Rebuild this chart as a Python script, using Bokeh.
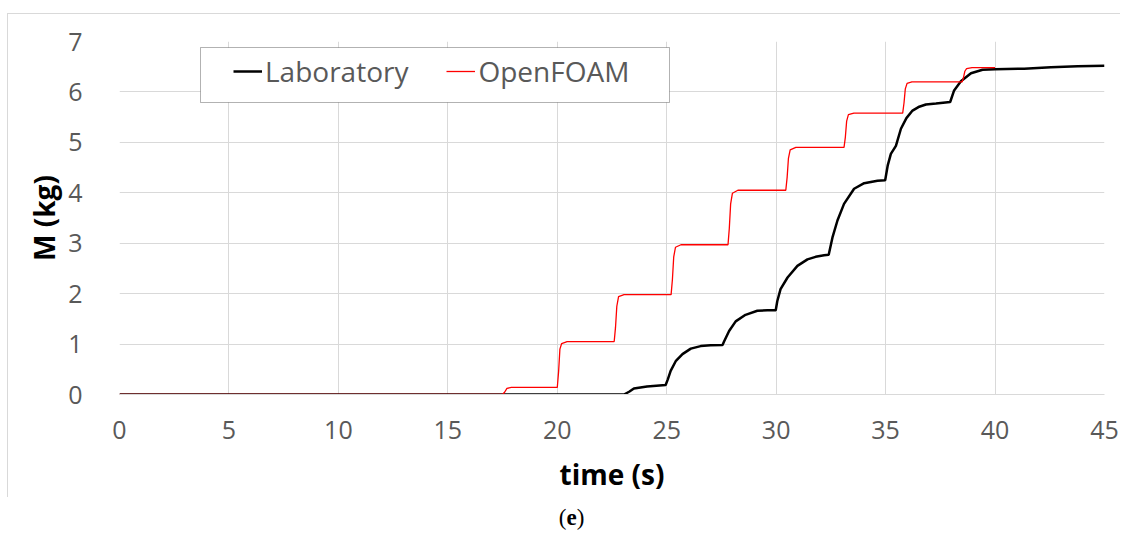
from bokeh.plotting import figure
from bokeh.layouts import column
from bokeh.models import Legend, LegendItem, BoxAnnotation, FixedTicker, Range1d, Label
from bokeh.embed import file_html
from bokeh.resources import INLINE

# Accumulated mass M (kg) against time (s)
lab_time = [0, 23.05, 23.3, 23.5, 24.1, 24.95, 25.05, 25.18, 25.41, 25.72, 26.1, 26.55,
            27.0, 27.55, 27.62, 27.85, 28.15, 28.6, 29.14, 29.6, 29.98, 30.05, 30.2,
            30.52, 30.97, 31.43, 31.8, 32.19, 32.4, 32.57, 32.8, 33.1, 33.56, 34.02,
            34.63, 34.98, 35.1, 35.24, 35.47, 35.7, 35.95, 36.23, 36.5, 36.84, 37.3,
            37.95, 38.13, 38.44, 38.9, 39.43, 40.0, 41.33, 42.55, 43.77, 45.0]
lab_mass = [0, 0, 0.06, 0.12, 0.16, 0.19, 0.30, 0.47, 0.66, 0.80, 0.91, 0.96,
            0.975, 0.98, 1.05, 1.26, 1.45, 1.58, 1.66, 1.67, 1.67, 1.85, 2.09,
            2.32, 2.55, 2.68, 2.73, 2.76, 2.77, 3.11, 3.45, 3.78, 4.08, 4.19,
            4.24, 4.25, 4.55, 4.77, 4.93, 5.27, 5.48, 5.63, 5.70, 5.75, 5.77,
            5.80, 6.03, 6.21, 6.37, 6.44, 6.45, 6.46, 6.49, 6.51, 6.52]

foam_time = [0, 17.5, 17.6, 17.7, 17.9,
             20.0, 20.06, 20.12, 20.2, 20.45,
             22.6, 22.66, 22.72, 22.8, 23.05,
             25.2, 25.26, 25.32, 25.4, 25.65,
             27.8, 27.86, 27.92, 28.0, 28.25,
             30.44, 30.5, 30.56, 30.64, 30.9,
             33.1, 33.16, 33.22, 33.3, 33.55,
             35.78, 35.84, 35.9, 35.98, 36.2,
             38.5, 38.56, 38.62, 38.7, 38.95,
             40.0]
foam_mass = [0, 0, 0.05, 0.12, 0.14,
             0.14, 0.45, 0.90, 1.01, 1.05,
             1.05, 1.33, 1.75, 1.94, 1.98,
             1.98, 2.28, 2.73, 2.92, 2.97,
             2.97, 3.30, 3.78, 3.99, 4.05,
             4.05, 4.30, 4.68, 4.85, 4.90,
             4.90, 5.10, 5.42, 5.55, 5.58,
             5.58, 5.78, 6.06, 6.17, 6.20,
             6.20, 6.29, 6.41, 6.46, 6.48,
             6.48]

x_ticks = [0, 5, 10, 15, 20, 25, 30, 35, 40, 45]
y_ticks = [0, 1, 2, 3, 4, 5, 6, 7]

TICK_GREY = "#595959"
GRID_GREY = "#d9d9d9"
FONT = "Open Sans"

p = figure(width=1113, height=484, output_backend="svg", toolbar_location=None,
           x_range=Range1d(0, 45), y_range=Range1d(0, 7),
           min_border_left=111, min_border_right=17, min_border_top=27, min_border_bottom=104,
           margin=(13, 0, 0, 7),
           styles={"border-top": "1px solid #d9d9d9", "border-left": "1px solid #d9d9d9"})
p.outline_line_color = None
p.background_fill_color = "white"
p.border_fill_color = "white"

for ax in (p.xaxis[0], p.yaxis[0]):
    ax.major_tick_line_color = None
    ax.minor_tick_line_color = None
    ax.major_label_text_font = FONT
    ax.major_label_text_font_size = "25px"
    ax.major_label_text_color = TICK_GREY
    ax.axis_label_text_font = FONT
    ax.axis_label_text_font_style = "bold"
    ax.axis_label_text_font_size = "28px"
    ax.axis_label_text_color = "black"

p.xaxis.ticker = FixedTicker(ticks=x_ticks)
p.yaxis.ticker = FixedTicker(ticks=y_ticks)
p.xaxis.axis_label = "time (s)"
p.yaxis.axis_label = "M (kg)"
p.xaxis.axis_line_color = GRID_GREY
p.yaxis.axis_line_color = None
p.xaxis.major_label_standoff = 20
p.yaxis.major_label_standoff = 31
p.xaxis.axis_label_standoff = 13
p.yaxis.axis_label_standoff = 2

p.xgrid.grid_line_color = GRID_GREY
p.ygrid.grid_line_color = GRID_GREY

r_lab = p.line(lab_time, lab_mass, line_color="black", line_width=2.5)
r_foam = p.line(foam_time, foam_mass, line_color="#ff0000", line_width=1.3)

# legend frame
p.add_layout(BoxAnnotation(left=191, right=660, top=32, bottom=87,
                           left_units="canvas", right_units="canvas",
                           top_units="canvas", bottom_units="canvas",
                           fill_color="white", fill_alpha=1,
                           line_color="black", line_width=1))

legend = Legend(items=[LegendItem(label="Laboratory", renderers=[r_lab]),
                       LegendItem(label="OpenFOAM", renderers=[r_foam])],
                orientation="horizontal", location=(114, 304),
                padding=0, margin=0, spacing=38, glyph_width=29, glyph_height=30,
                label_height=30, label_standoff=3,
                label_text_font=FONT, label_text_font_size="28px",
                label_text_color=TICK_GREY, label_text_baseline="middle",
                border_line_color=None, background_fill_alpha=0)
p.add_layout(legend)

# panel caption strip below the chart: "(e)" with a bold letter
cap = figure(width=1121, height=36, output_backend="svg", toolbar_location=None,
             x_range=Range1d(0, 1), y_range=Range1d(0, 1),
             x_axis_location=None, y_axis_location=None,
             min_border=0, min_border_left=0, min_border_right=0,
             min_border_top=0, min_border_bottom=0, margin=0)
cap.outline_line_color = None
cap.grid.visible = False
for txt, x0, style in (("(", 558.3, "normal"), ("e", 566, "bold"), (")", 576.2, "normal")):
    cap.add_layout(Label(x=x0, y=20, x_units="canvas", y_units="canvas", text=txt,
                         text_align="left", text_baseline="middle",
                         text_font="Liberation Serif", text_font_style=style,
                         text_font_size="23px", text_color="black"))

page = column(p, cap, spacing=0, margin=0)

open("out.html", "w").write(file_html(page, INLINE))
